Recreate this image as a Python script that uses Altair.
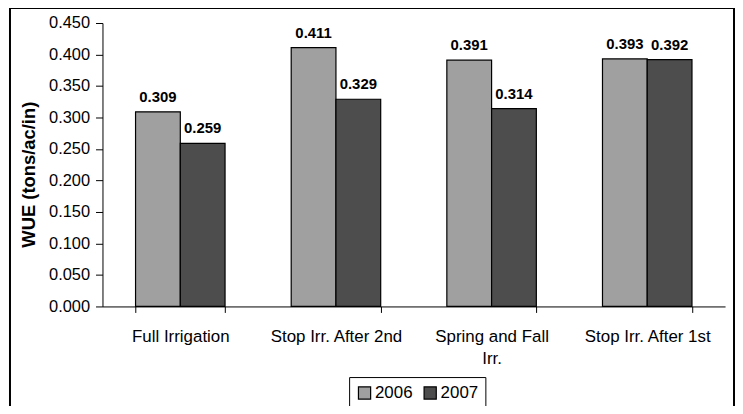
import altair as alt
import pandas as pd

categories = ["Full Irrigation", "Stop Irr. After 2nd", "Spring and Fall Irr.", "Stop Irr. After 1st"]
wue_2006 = [0.309, 0.411, 0.391, 0.393]
wue_2007 = [0.259, 0.329, 0.314, 0.392]
years = ["2006", "2007"]
colors = ["#a0a0a0", "#4d4d4d"]
y_ticks = [0.0, 0.05, 0.1, 0.15, 0.2, 0.25, 0.3, 0.35, 0.4, 0.45]

rows = []
for c, a, b in zip(categories, wue_2006, wue_2007):
    rows.append({"cat": c, "year": "2006", "wue": a})
    rows.append({"cat": c, "year": "2007", "wue": b})
df = pd.DataFrame(rows)

FONT = "Liberation Sans"

x_enc = alt.X("cat:N", sort=categories, title=None,
              scale=alt.Scale(paddingInner=0.425, paddingOuter=0.2125),
              axis=alt.Axis(labelAngle=0, labelFontSize=17, labelFont=FONT, labelColor="black",
                            tickBand="extent", tickSize=6, tickColor="black", domainColor="black",
                            labelPadding=16, labelLineHeight=22,
                            labelExpr="datum.label == 'Spring and Fall Irr.' ? ['Spring and Fall', 'Irr.'] : datum.label"))
xoff = alt.XOffset("year:N", sort=years, scale=alt.Scale(paddingInner=0, paddingOuter=0))

bars = alt.Chart(df).mark_bar(stroke="black", strokeWidth=1.2).encode(
    x=x_enc,
    xOffset=xoff,
    y=alt.Y("wue:Q", title="WUE (tons/ac/in)",
            scale=alt.Scale(domain=[0, 0.45], nice=False),
            axis=alt.Axis(values=y_ticks, format=".3f", labelOverlap=False, tickCount=10,
                          grid=False, tickSize=7, tickColor="black", domainColor="black",
                          labelFontSize=16.5, labelFont=FONT, labelColor="black", labelPadding=6,
                          titleFontSize=18.5, titleFont=FONT, titleFontWeight="bold", titleColor="black",
                          titlePadding=10, titleY=152)),
    color=alt.Color("year:N", sort=years, scale=alt.Scale(domain=years, range=colors),
                    legend=alt.Legend(title=None, orient="none", legendX=248, legendY=356,
                                      direction="horizontal", symbolType="square", symbolSize=150,
                                      symbolStrokeColor="black", symbolStrokeWidth=1.2,
                                      labelFontSize=17, labelFont=FONT, labelColor="black",
                                      strokeColor="black", fillColor="white", padding=7,
                                      columnPadding=8, labelOffset=2)),
)

labels = alt.Chart(df).mark_text(fontSize=15, fontWeight="bold", font=FONT, dy=-15, color="black").encode(
    x=alt.X("cat:N", sort=categories),
    xOffset=xoff,
    y="wue:Q",
    text=alt.Text("wue:Q", format=".3f"),
)

border = alt.Chart(pd.DataFrame({"a": [0]})).mark_rect(fill=None, stroke="black", strokeWidth=2).encode(
    x=alt.value(-93), x2=alt.value(635), y=alt.value(-15), y2=alt.value(420)
)

chart = alt.layer(bars, labels, border).properties(
    width=626, height=285,
    autosize=alt.AutoSizeParams(type="none"),
    padding={"left": 95, "top": 14, "right": 10, "bottom": 99},
    background="white",
).configure_view(stroke=None)

chart.save("out.html", embed_options={"renderer": "svg", "actions": False})
